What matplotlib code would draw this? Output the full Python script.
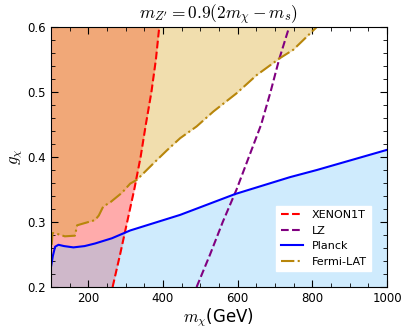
import numpy as np
import matplotlib
matplotlib.use("Agg")
from matplotlib import pyplot as plt
from matplotlib.ticker import MultipleLocator

plt.rcParams['mathtext.fontset'] = 'cm'

# curves (m_chi in GeV, g_chi)
xenon_g = [0.2, 0.25, 0.3, 0.35, 0.4, 0.45, 0.5, 0.55, 0.6]
xenon_m = [265, 285, 304, 323, 340, 354, 369, 381, 390]

lz_g = [0.2, 0.25, 0.3, 0.35, 0.4, 0.45, 0.5, 0.55, 0.6]
lz_m = [490, 526, 560, 597, 630, 663, 688, 711, 738]

planck_m = [100, 105, 111, 120, 135, 160, 190, 218, 263, 312, 446, 593, 740, 812, 1000]
planck_g = [0.231, 0.248, 0.262, 0.265, 0.263, 0.261, 0.263, 0.267, 0.275, 0.287,
            0.311, 0.343, 0.369, 0.38, 0.411]

fermi_m = [102, 104, 110, 137, 164, 170, 218, 228, 240, 258, 290, 312, 330, 374,
           410, 446, 490, 535, 597, 651, 713, 749, 794, 812]
fermi_g = [0.265, 0.283, 0.283, 0.278, 0.279, 0.295, 0.303, 0.31, 0.324, 0.33, 0.345,
           0.359, 0.365, 0.39, 0.41, 0.429, 0.447, 0.470, 0.498, 0.526, 0.552, 0.565,
           0.590, 0.600]

fig = plt.figure(figsize=(4.08, 3.33), dpi=100)
ax = fig.add_axes([0.125, 0.138, 0.8235, 0.781])

########### FILLS
ax.fill_betweenx(xenon_g, 100, xenon_m, color='red', alpha=0.33, lw=0)
ax.fill_between(fermi_m, fermi_g, 0.6, color='goldenrod', alpha=0.36, lw=0)
ax.fill_between(planck_m, 0.2, planck_g, color='lightskyblue', alpha=0.4, lw=0)

########### LINES
ax.plot(xenon_m, xenon_g, '--', color='red', lw=1.5, label='XENON1T')
ax.plot(lz_m, lz_g, '--', color='purple', lw=1.5, label='LZ')
ax.plot(planck_m, planck_g, '-', color='blue', lw=1.5, label='Planck')
ax.plot(fermi_m, fermi_g, '-.', color='darkgoldenrod', lw=1.5, label='Fermi-LAT')

ax.set_xlim(100, 1000)
ax.set_ylim(0.2, 0.6)
ax.xaxis.set_major_locator(MultipleLocator(200))
ax.xaxis.set_minor_locator(MultipleLocator(50))
ax.yaxis.set_major_locator(MultipleLocator(0.1))
ax.yaxis.set_minor_locator(MultipleLocator(0.02))
ax.tick_params(which='both', direction='in', top=True, right=True, labelsize=8.5)
ax.tick_params(which='major', length=5)
ax.tick_params(which='minor', length=3)

ax.set_title(r"$m_{Z'}=0.9(2m_\chi-m_s)$", fontsize=12.5, pad=4)
ax.set_xlabel(r"$m_\chi$(GeV)", fontsize=12, labelpad=1)
ax.set_ylabel(r"$g_\chi$", fontsize=12, labelpad=2)

leg = ax.legend(loc='lower right', fontsize=8, frameon=True, fancybox=False,
                bbox_to_anchor=(0.97, 0.04))
leg.get_frame().set_edgecolor('white')
leg.get_frame().set_alpha(1)

plt.savefig('out.png', dpi=100)
